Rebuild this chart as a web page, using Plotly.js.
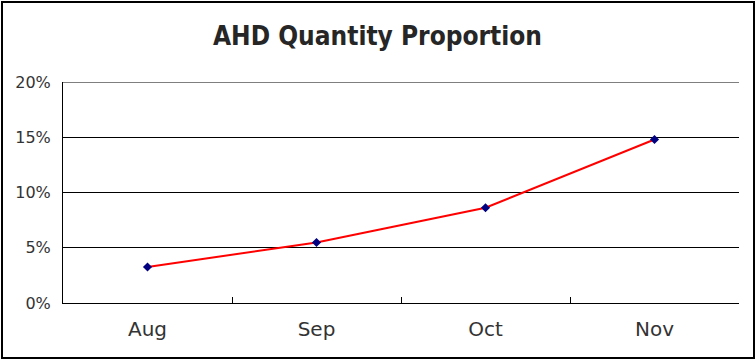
<!DOCTYPE html>
<html>
<head>
<meta charset="utf-8">
<script src="https://cdn.plot.ly/plotly-3.0.1.min.js"></script>
<style>
  html, body { margin: 0; padding: 0; background: #fff; }
  #wrap { position: relative; width: 755px; height: 359px; }
  #chart { width: 755px; height: 359px; }
  #frame { position: absolute; left: 1px; top: 1px; width: 750px; height: 354px; border: 2px solid #000; pointer-events: none; }
</style>
</head>
<body>
<div id="wrap">
  <div id="chart"></div>
  <div id="frame"></div>
</div>
<script>
const months = ["Aug", "Sep", "Oct", "Nov"];
const proportion = [0.0326, 0.0548, 0.0862, 0.148];
const chartTitle = "AHD Quantity Proportion";
const yMax = 0.2;

const trace = {
  x: months,
  y: proportion,
  type: "scatter",
  mode: "lines+markers",
  line: { color: "#ff0000", width: 2 },
  marker: { symbol: "diamond", size: 7, color: "#000080" },
  hoverinfo: "x+y"
};

const layout = {
  width: 755,
  height: 359,
  margin: { l: 63, r: 16, t: 82, b: 56 },
  paper_bgcolor: "#ffffff",
  plot_bgcolor: "#ffffff",
  showlegend: false,
  title: {
    text: "<b>" + chartTitle + "</b>",
    font: { family: "DejaVu Sans Condensed, DejaVu Sans, sans-serif", size: 26, color: "#262626" },
    x: 0.5, xanchor: "center",
    y: 0.9, yref: "container", yanchor: "middle"
  },
  shapes: [{
    type: "line", xref: "paper", yref: "y",
    x0: 0, x1: 1, y0: yMax, y1: yMax,
    line: { color: "#000", width: 1 }
  }],
  xaxis: {
    type: "category",
    range: [-0.5, 3.5],
    showgrid: false,
    showline: true,
    linecolor: "#000",
    linewidth: 1,
    ticks: "inside",
    tickson: "boundaries",
    ticklen: 6,
    tickcolor: "#000",
    ticklabelstandoff: 8,
    tickfont: { family: "DejaVu Sans, sans-serif", size: 20, color: "#333" },
    zeroline: false,
    fixedrange: true
  },
  yaxis: {
    range: [0, yMax],
    dtick: 0.05,
    tickformat: ".0%",
    showgrid: true,
    gridcolor: "#000",
    gridwidth: 1,
    showline: true,
    linecolor: "#000",
    linewidth: 1,
    ticks: "",
    ticklabelstandoff: 8,
    tickfont: { family: "DejaVu Sans, sans-serif", size: 16, color: "#333" },
    zeroline: false,
    fixedrange: true
  }
};

Plotly.newPlot("chart", [trace], layout, { displayModeBar: false, staticPlot: true });
</script>
</body>
</html>
